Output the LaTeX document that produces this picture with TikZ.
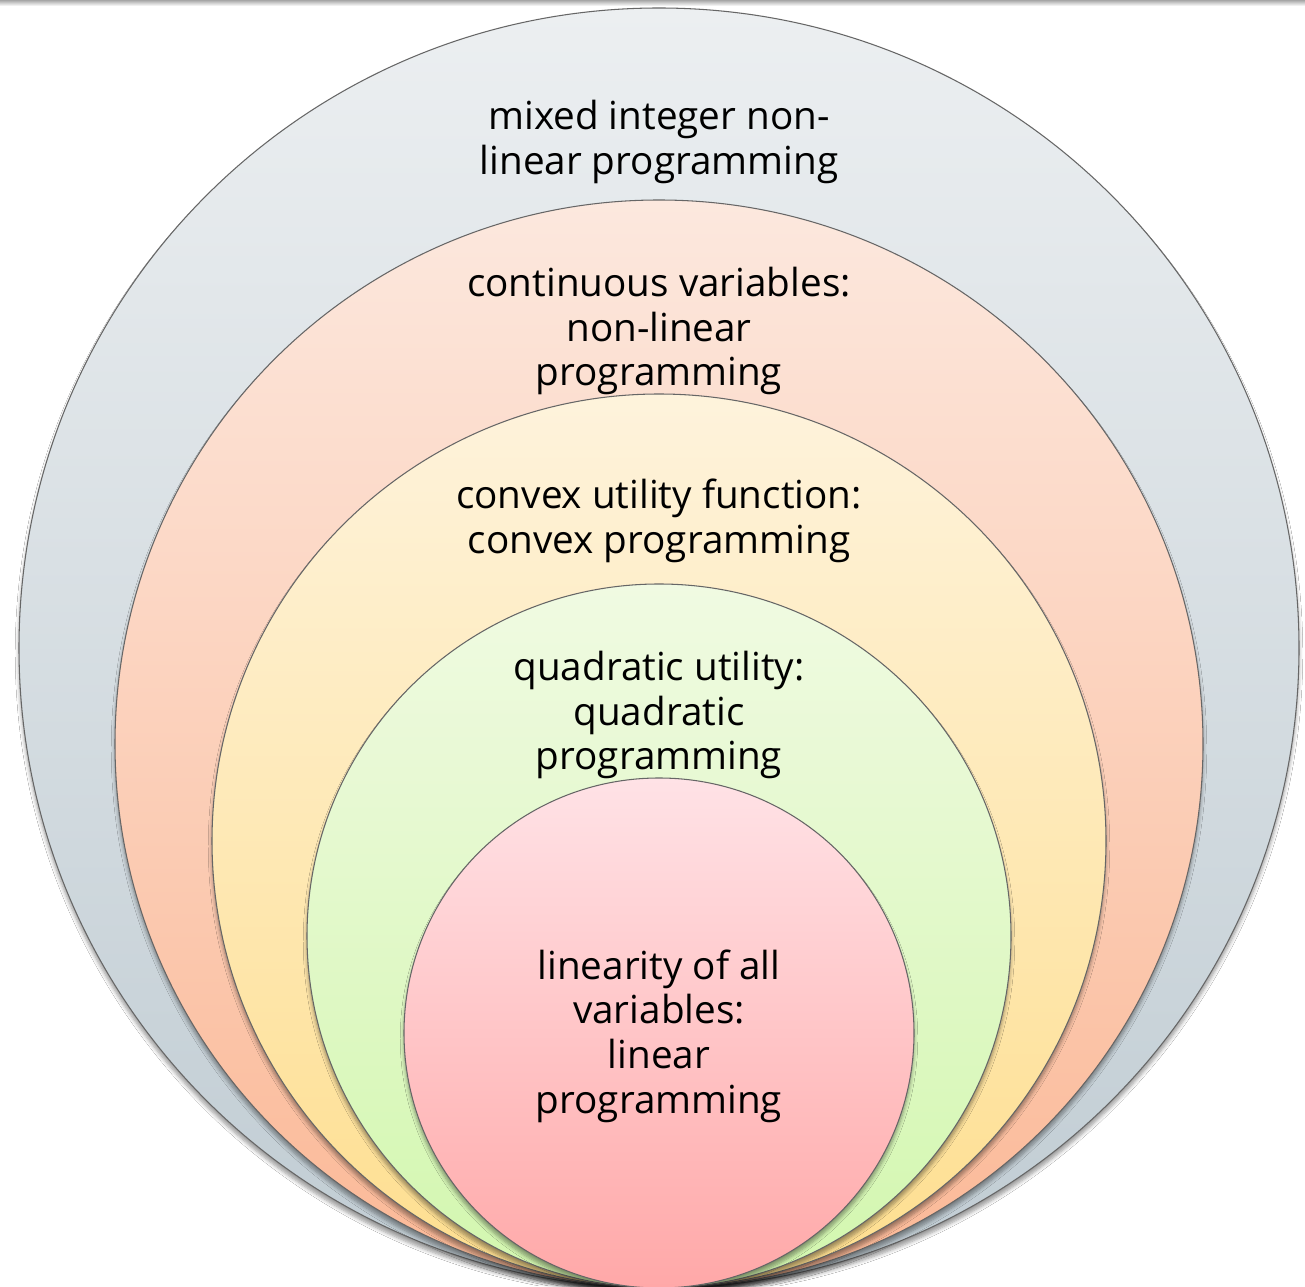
\documentclass[tikz,border=0pt]{standalone}
\usepackage{fontspec}
\setmainfont{Open Sans}
\usetikzlibrary{positioning,shadows.blur}
\definecolor{greytop}{RGB}{236,239,241}
\definecolor{greybot}{RGB}{192,204,211}
\definecolor{salmtop}{RGB}{252,232,222}
\definecolor{salmbot}{RGB}{251,184,150}
\definecolor{yelltop}{RGB}{254,243,220}
\definecolor{yellbot}{RGB}{254,222,142}
\definecolor{greentop}{RGB}{240,250,226}
\definecolor{greenbot}{RGB}{210,247,174}
\definecolor{pinktop}{RGB}{255,226,230}
\definecolor{pinkbot}{RGB}{255,168,168}

\begin{document}
\begin{tikzpicture}[x=0.02cm, y=0.02cm,
    ring/.style={draw=black!60, line width=0.6pt,
        blur shadow={shadow xshift=0pt, shadow yshift=-3pt, shadow opacity=40, shadow blur steps=6}},
    lbl/.style={align=center, inner sep=0pt, font=\fontsize{22}{25.4}\selectfont}]
        \useasboundingbox[fill=white] (0,0) rectangle (1305,1286);
        \shade[top color=black!35, bottom color=white] (0,1280) rectangle (1305,1286);

        % nested sets, all touching at the bottom
        \path[ring, top color=greytop, bottom color=greybot] (659,638) circle[radius=640];
        \path[ring, top color=salmtop, bottom color=salmbot] (659,542) circle[radius=544];
        \path[ring, top color=yelltop, bottom color=yellbot] (659,445) circle[radius=447];
        \path[ring, top color=greentop, bottom color=greenbot] (659,350) circle[radius=352];
        \path[ring, top color=pinktop, bottom color=pinkbot] (659,253) circle[radius=255];

        \node[lbl] (minlp) at (659,1144) {mixed integer non-\\linear programming};
        \node[lbl] (nlp) at (659,955) {continuous variables:\\non-linear\\programming};
        \node[lbl] (cp) at (659,765) {convex utility function:\\convex programming};
        \node[lbl] (qp) at (659,571) {quadratic utility:\\quadratic\\programming};
        \node[lbl] (lp) at (659,250) {linearity of all\\variables:\\linear\\programming};
    \end{tikzpicture}
\end{document}
